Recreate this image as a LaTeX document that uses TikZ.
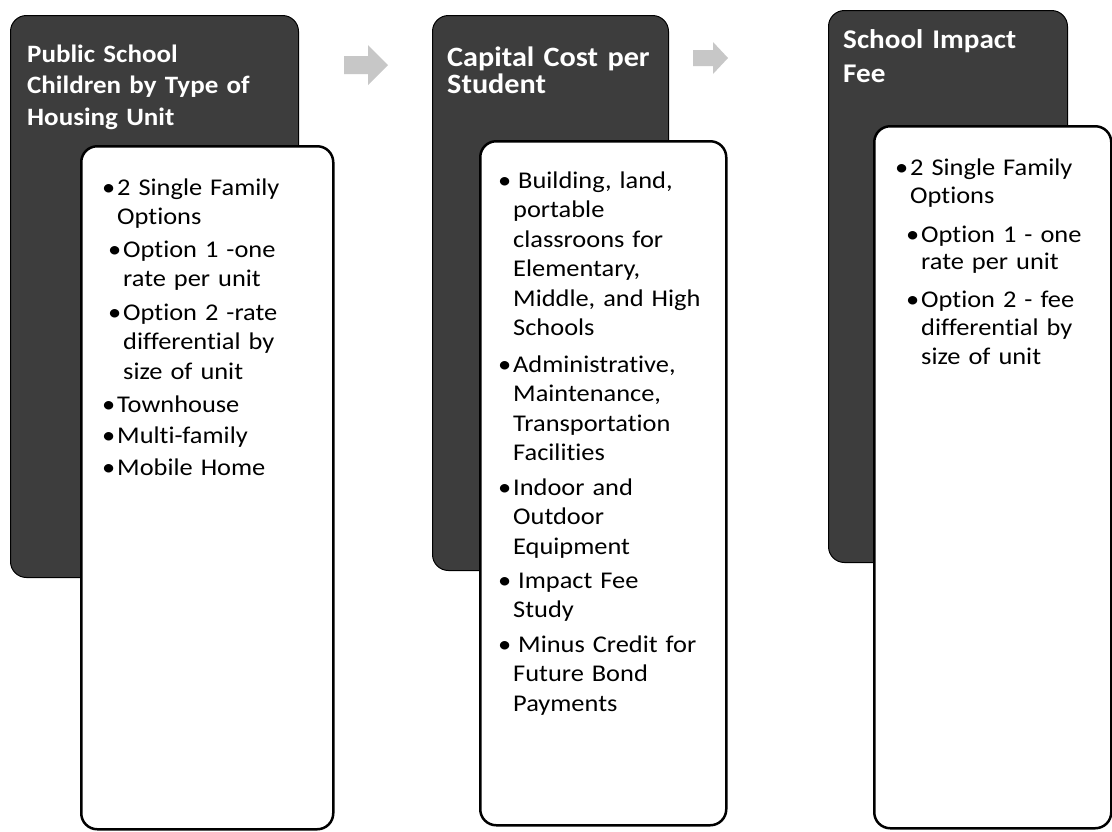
\documentclass[tikz,border=0pt]{standalone}
\usepackage{fontspec}
\setmainfont{Carlito}
\newfontfamily\bodyf[FakeStretch=1.1,Ligatures=NoCommon]{Carlito}
\newfontfamily\headf[FakeStretch=1.08,Ligatures=NoCommon]{Carlito}
\usetikzlibrary{shapes.arrows}
\newcommand\bulA{\llap{\textbullet\hspace{2pt}}}
\begin{document}
\begin{tikzpicture}[x=1pt,y=-1pt,
  darkbox/.style={fill=black!76, draw=black, line width=1pt, rounded corners=16pt, anchor=north west, inner sep=0pt},
  whitebox/.style={fill=white, draw=black, line width=2.5pt, rounded corners=16pt, anchor=north west, inner sep=0pt},
  head/.style={anchor=base west, inner sep=0pt, text=white, align=left, text width=260pt},
  itm/.style={anchor=base west, inner sep=0pt, align=left, text width=240pt, font=\bodyf\fontsize{24}{29.5}\selectfont},
  flow/.style={fill=black!22, draw=none}]
\useasboundingbox (0,0) rectangle (1112,831);
\fill[white] (0,0) rectangle (1112,831);

% dark header boxes
\node[darkbox, minimum width=288pt, minimum height=562pt] (d1) at (10,15) {};
\node[darkbox, minimum width=236pt, minimum height=555pt] (d2) at (432,15) {};
\node[darkbox, minimum width=239pt, minimum height=552pt] (d3) at (828,10) {};

% arrows (faint)
\coordinate (a1) at (344,65);
\coordinate (a2) at (693,58);
\fill[flow] (a1) ++(0,-9) -- ++(24,0) -- ++(0,-11) -- ++(20,20) -- ++(-20,20) -- ++(0,-11) -- ++(-24,0) -- cycle;
\fill[flow] (a2) ++(0,-8) -- ++(20,0) -- ++(0,-8) -- ++(15,16) -- ++(-15,16) -- ++(0,-8) -- ++(-20,0) -- cycle;

% headers
\node[head, font=\headf\bfseries\fontsize{25}{31.5}\selectfont] (h1) at (27,62) {Public School\\Children by Type of\\Housing Unit};
\node[head, font=\headf\bfseries\fontsize{28}{27}\selectfont] (h2) at (447,66) {Capital Cost per\\Student};
\node[head, font=\headf\bfseries\fontsize{27}{34}\selectfont] (h3) at (843,48) {School Impact\\Fee};

% white boxes
\node[whitebox, minimum width=252pt, minimum height=683pt] (w1) at (80,145) {};
\node[whitebox, minimum width=246pt, minimum height=684pt] (w2) at (479,140) {};
\node[whitebox, minimum width=237pt, minimum height=702pt] (w3) at (873,125) {};

% column 1
\node[itm] (c1a) at (117,195) {\bulA 2 Single Family\\Options};
\node[itm] (c1b) at (123,257) {\bulA Option 1 -one\\rate per unit};
\node[itm] (c1c) at (123,320) {\bulA Option 2 -rate\\differential by\\size of unit};
\node[itm] (c1d) at (117,412) {\bulA Townhouse};
\node[itm] (c1e) at (117,443) {\bulA Multi-family};
\node[itm] (c1f) at (117,475) {\bulA Mobile Home};

% column 2
\node[itm] (c2a) at (513,188) {\bulA\hspace{5pt}Building, land,\\portable\\classroons for\\Elementary,\\Middle, and High\\Schools};
\node[itm] (c2b) at (513,372) {\bulA Administrative,\\Maintenance,\\Transportation\\Facilities};
\node[itm] (c2c) at (513,495) {\bulA Indoor and\\Outdoor\\Equipment};
\node[itm] (c2d) at (513,588) {\bulA\hspace{5pt}Impact Fee\\Study};
\node[itm] (c2e) at (513,652) {\bulA\hspace{5pt}Minus Credit for\\Future Bond\\Payments};

% column 3
\node[itm, font=\bodyf\fontsize{24}{28}\selectfont] (c3a) at (910,175) {\bulA 2 Single Family\\Options};
\node[itm, font=\bodyf\fontsize{24}{27}\selectfont] (c3b) at (921,242) {\bulA Option 1 - one\\rate per unit};
\node[itm, font=\bodyf\fontsize{24}{28.5}\selectfont] (c3c) at (921,307) {\bulA Option 2 - fee\\differential by\\size of unit};
\end{tikzpicture}
\end{document}
